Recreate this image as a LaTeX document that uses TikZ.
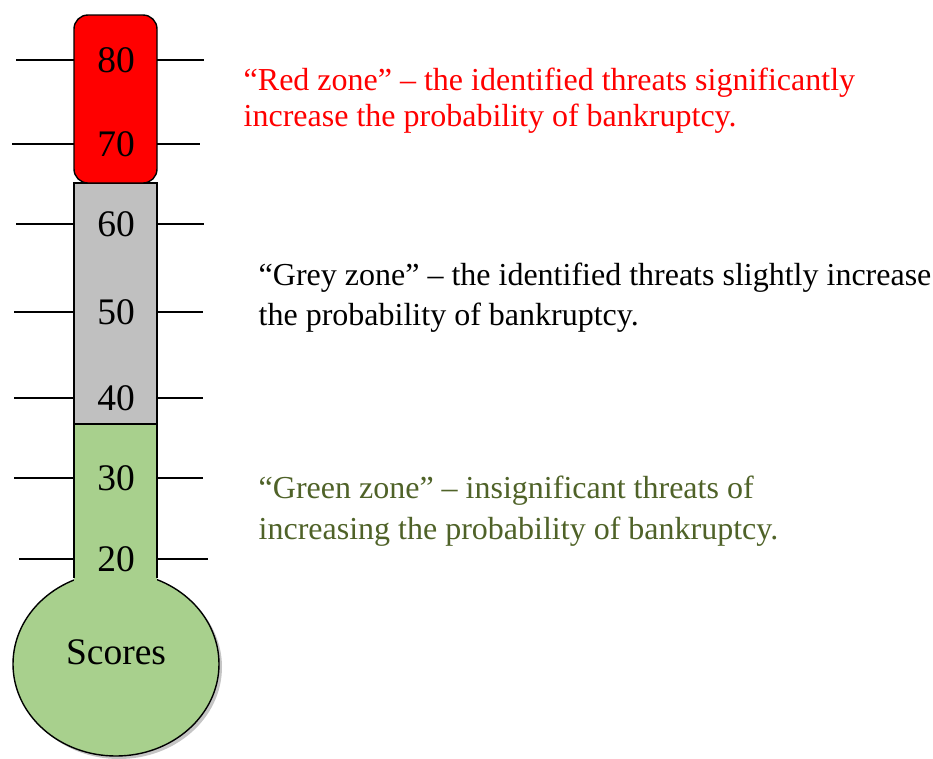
\documentclass[tikz,border=0pt]{standalone}
\usepackage{fontspec}
\setmainfont{Liberation Serif}
\usetikzlibrary{shapes.geometric,shadows}

\definecolor{zonered}{RGB}{255,0,0}
\definecolor{zonegrey}{RGB}{192,192,192}
\definecolor{zonegreen}{RGB}{168,208,141}
\definecolor{greentext}{RGB}{79,98,40}

\begin{document}
\begin{tikzpicture}[x=1pt, y=-1pt, line width=1.4pt,
    bulb/.style={ellipse, draw, fill=zonegreen, minimum width=206pt, minimum height=184pt, inner sep=0pt,
                 drop shadow={shadow xshift=3pt, shadow yshift=-3pt, fill=black!45}},
    scale label/.style={inner sep=0pt, font=\fontsize{37.5}{40}\selectfont},
    zone text/.style={anchor=base west, align=left, inner sep=0pt}]
    \useasboundingbox (0,0) rectangle (933,758);

    % Bulb {scores}
    \node [bulb]        (bulb)   at (116,664) {};
    \node [scale label] (scores) at (116,652) {Scores};

    % Tube {red, grey, green}
    \fill [zonegreen] (74,424) rectangle (157,590);
    \draw (74,578) -- (74,424) (157,424) -- (157,578);
    \draw [fill=zonegrey] (74,183) rectangle (157,424);
    \draw [fill=zonered, rounded corners=14pt] (74,183) -- (74,15) -- (157,15) -- (157,183) -- cycle;

    % Ticks and values
    \foreach \val/\yy/\xl/\xr in {80/60/16/204, 70/144/12/200, 60/224/16/204, 50/312/14/203,
                                   40/398/14/203, 30/478/14/203, 20/559/19/208} {
        \draw (\xl,\yy) -- (74,\yy) (157,\yy) -- (\xr,\yy);
        \node [scale label] (v\val) at (116,\yy) {\val};
    }

    % Zones (anchored at the baseline of the last line)
    \node [zone text, text=zonered, font=\fontsize{32}{36}\selectfont] (redzone) at (243,126)
        {“Red zone” – the identified threats significantly\\increase the probability of bankruptcy.};
    \node [zone text, font=\fontsize{32}{40}\selectfont] (greyzone) at (258,325)
        {“Grey zone” – the identified threats slightly increase\\the probability of bankruptcy.};
    \node [zone text, text=greentext, font=\fontsize{32}{41}\selectfont] (greenzone) at (258,539)
        {“Green zone” – insignificant threats of\\increasing the probability of bankruptcy.};
\end{tikzpicture}
\end{document}
